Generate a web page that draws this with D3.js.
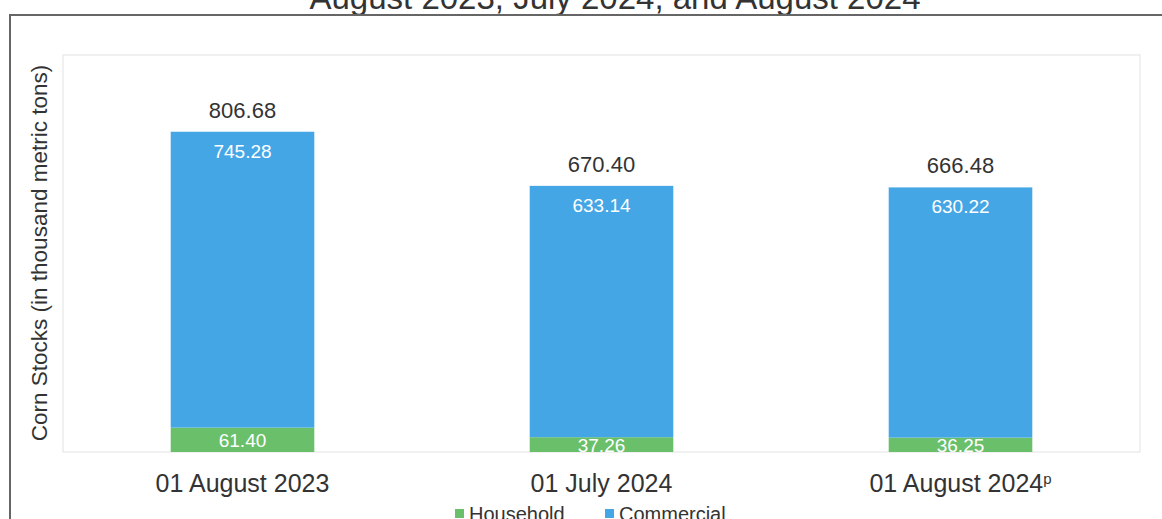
<!DOCTYPE html>
<html>
<head>
<meta charset="utf-8">
<script src="https://cdn.jsdelivr.net/npm/d3@7"></script>
<style>
  body { margin: 0; background: #fff; }
  text { font-family: "Liberation Sans", Arial, sans-serif; }
</style>
</head>
<body>
<svg id="chart" width="1162" height="519"></svg>
<script>
// data
var categories = ["01 August 2023", "01 July 2024", "01 August 2024"];
var household = [61.40, 37.26, 36.25];
var commercial = [745.28, 633.14, 630.22];
var totals = [806.68, 670.40, 666.48];
var seriesNames = ["Household", "Commercial"];

var colors = { Household: "#6abf6a", Commercial: "#45a6e6" };

var svg = d3.select("#chart");
var plot = { left: 63, right: 1140, top: 55, bottom: 452 };

var rows = categories.map(function(c, i) {
  return { cat: c, Household: household[i], Commercial: commercial[i], total: totals[i] };
});

var x = d3.scaleBand()
  .domain(categories)
  .range([plot.left, plot.right])
  .paddingInner(0.6)
  .paddingOuter(0.3);

var y = d3.scaleLinear()
  .domain([0, 1000])
  .range([plot.bottom, plot.top]);

// title (first line is off the top of the crop)
svg.append("text")
  .attr("x", 615).attr("y", 9)
  .attr("text-anchor", "middle")
  .style("font-size", "33px")
  .style("fill", "#333")
  .text("August 2023, July 2024, and August 2024");

// outer frame
svg.append("path")
  .attr("d", "M10,519 L10,15 L1162,15")
  .attr("fill", "none")
  .attr("stroke", "#666")
  .attr("stroke-width", 2);

// plot area frame
svg.append("rect")
  .attr("x", plot.left).attr("y", plot.top)
  .attr("width", plot.right - plot.left)
  .attr("height", plot.bottom - plot.top)
  .attr("fill", "none")
  .attr("stroke", "#e2e2e2");

svg.append("defs").append("clipPath").attr("id", "plotclip")
  .append("rect")
  .attr("x", plot.left).attr("y", plot.top)
  .attr("width", plot.right - plot.left)
  .attr("height", plot.bottom - plot.top);

var stacked = d3.stack().keys(seriesNames)(rows);

var layers = svg.append("g").selectAll("g")
  .data(stacked)
  .join("g")
  .attr("fill", function(d) { return colors[d.key]; });

layers.selectAll("rect")
  .data(function(d) { return d; })
  .join("rect")
  .attr("x", function(d) { return x(d.data.cat); })
  .attr("y", function(d) { return y(d[1]); })
  .attr("width", x.bandwidth())
  .attr("height", function(d) { return y(d[0]) - y(d[1]); });

// labels inside the segments
var inner = svg.append("g").attr("clip-path", "url(#plotclip)");

inner.selectAll(".hh")
  .data(stacked[0])
  .join("text")
  .attr("class", "hh")
  .attr("x", function(d) { return x(d.data.cat) + x.bandwidth() / 2; })
  .attr("y", function(d) { return (y(d[0]) + y(d[1])) / 2 + 7; })
  .attr("text-anchor", "middle")
  .style("font-size", "19px")
  .style("fill", "#fff")
  .text(function(d) { return d3.format(".2f")(d.data.Household); });

inner.selectAll(".cm")
  .data(stacked[1])
  .join("text")
  .attr("class", "cm")
  .attr("x", function(d) { return x(d.data.cat) + x.bandwidth() / 2; })
  .attr("y", function(d) { return y(d[1]) + 26; })
  .attr("text-anchor", "middle")
  .style("font-size", "19px")
  .style("fill", "#fff")
  .text(function(d) { return d3.format(".2f")(d.data.Commercial); });

// totals above bars
svg.append("g").selectAll("text")
  .data(rows)
  .join("text")
  .attr("x", function(d) { return x(d.cat) + x.bandwidth() / 2; })
  .attr("y", function(d) { return y(d.total) - 14; })
  .attr("text-anchor", "middle")
  .style("font-size", "22px")
  .style("fill", "#333")
  .text(function(d) { return d3.format(".2f")(d.total); });

// category axis
var xAxis = svg.append("g")
  .attr("transform", "translate(0," + plot.bottom + ")")
  .call(d3.axisBottom(x).tickSize(0).tickPadding(40));
xAxis.select(".domain").remove();
xAxis.selectAll("text")
  .attr("dy", 0)
  .style("font-size", "25px")
  .style("fill", "#333");
xAxis.selectAll(".tick").filter(function(d, i) { return i === 2; })
  .select("text")
  .text(null)
  .call(function(t) {
    t.append("tspan").text("01 August  2024");
    t.append("tspan").text("p").style("font-size", "15px").attr("dy", -8);
  });

// y axis title
svg.append("text")
  .attr("transform", "translate(47,253) rotate(-90)")
  .attr("text-anchor", "middle")
  .style("font-size", "22.5px")
  .style("fill", "#333")
  .text("Corn Stocks (in thousand metric tons)");

// legend
var legendItems = [
  { name: seriesNames[0], x: 455 },
  { name: seriesNames[1], x: 605 }
];
var legend = svg.append("g").selectAll("g")
  .data(legendItems)
  .join("g")
  .attr("transform", function(d) { return "translate(" + d.x + ",0)"; });
legend.append("rect")
  .attr("x", 0).attr("y", 509)
  .attr("width", 9).attr("height", 9)
  .attr("fill", function(d) { return colors[d.name]; });
legend.append("text")
  .attr("x", 14).attr("y", 521)
  .style("font-size", "20px")
  .style("fill", "#333")
  .text(function(d) { return d.name; });
</script>
</body>
</html>
